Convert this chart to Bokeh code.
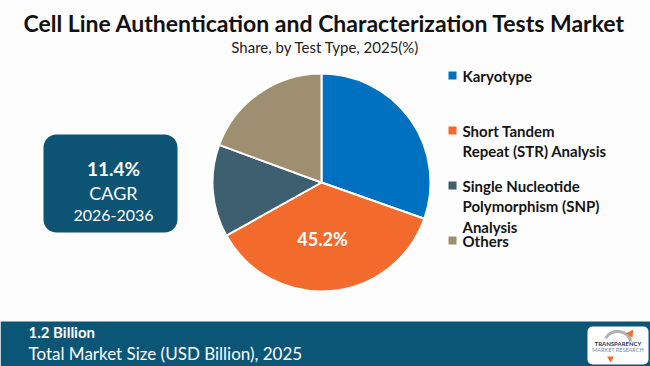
import math
from bokeh.plotting import figure
from bokeh.models import Range1d, BoxAnnotation
from bokeh.core.properties import value
from bokeh.embed import file_html
from bokeh.resources import INLINE

# ---- data ----
categories = ["Karyotype", "Short Tandem Repeat (STR) Analysis",
              "Single Nucleotide Polymorphism (SNP) Analysis", "Others"]
shares = [30.4, 36.5, 13.7, 19.4]
colors = ["#0070c0", "#f26b2c", "#3e5f6f", "#9e8f70"]
legend_lines = [["Karyotype"], ["Short Tandem", "Repeat (STR) Analysis"],
                ["Single Nucleotide", "Polymorphism (SNP)", "Analysis"], ["Others"]]
highlight_label = "45.2%"
title = "Cell Line Authentication and Characterization Tests Market"
subtitle = "Share, by Test Type, 2025(%)"
cagr_value = "11.4%"
cagr_period = "2026-2036"
market_size = "1.2 Billion"
market_caption = "Total Market Size (USD Billion), 2025"

W, H = 650, 366
p = figure(width=W, height=H, x_range=Range1d(0, W), y_range=Range1d(0, H),
           output_backend="svg", toolbar_location=None, min_border=0)
p.axis.visible = False
p.grid.visible = False
p.outline_line_color = None
p.background_fill_color = "#fdfdfd"
p.border_fill_color = "#fdfdfd"

def Y(y):
    return H - y

FONT = value("Lato")

# title
p.text([W / 2 - 1], [Y(22)], text=[title], text_font=FONT, text_font_style="bold",
       text_font_size="23px", text_align="center", text_baseline="middle", text_color="#111111")
p.text([W / 2], [Y(46)], text=[subtitle], text_font=FONT,
       text_font_size="15px", text_align="center", text_baseline="middle", text_color="#222222")

# pie
cx, cy, r = 321, Y(182), 109
total = sum(shares)
start = math.pi / 2
starts, ends = [], []
for s in shares:
    a = 2 * math.pi * s / total
    starts.append(start - a)
    ends.append(start)
    start -= a
p.wedge(x=[cx] * 4, y=[cy] * 4, radius=r, start_angle=starts, end_angle=ends,
        fill_color=colors, line_color="white", line_width=2)
p.text([322], [Y(238)], text=[highlight_label], text_font=FONT, text_font_style="bold",
       text_font_size="18px", text_align="center", text_baseline="middle", text_color="white")

# legend
leg_y = [75, 130, 185, 240]
for i, lines in enumerate(legend_lines):
    p.scatter([452], [Y(leg_y[i])], marker="square", size=8, fill_color=colors[i], line_color=None)
    for j, t in enumerate(lines):
        p.text([462], [Y(leg_y[i] + j * 20.5)], text=[t], text_font=FONT, text_font_style="bold",
               text_font_size="15px", text_align="left", text_baseline="middle", text_color="#151515")

# CAGR box
p.add_layout(BoxAnnotation(left=43, right=177, top=Y(134), bottom=Y(232), fill_color="#0d5373",
                           fill_alpha=1, line_color=None, border_radius=13, level="underlay"))
p.text([113], [Y(168)], text=[cagr_value], text_font=FONT, text_font_style="bold",
       text_font_size="19px", text_align="center", text_baseline="middle", text_color="white")
p.text([113], [Y(192)], text=["CAGR"], text_font=FONT,
       text_font_size="18px", text_align="center", text_baseline="middle", text_color="white")
p.text([113], [Y(215)], text=[cagr_period], text_font=FONT,
       text_font_size="16px", text_align="center", text_baseline="middle", text_color="white")

# bottom band
p.add_layout(BoxAnnotation(left=0, right=W, top=Y(321), bottom=0, fill_color="#0b5677",
                           fill_alpha=1, line_color=None, level="underlay"))
p.text([28], [Y(331)], text=[market_size], text_font=FONT, text_font_style="bold",
       text_font_size="15px", text_align="left", text_baseline="middle", text_color="white")
p.text([28], [Y(353)], text=[market_caption], text_font=FONT,
       text_font_size="17px", text_align="left", text_baseline="middle", text_color="white")

# logo
p.add_layout(BoxAnnotation(left=587, right=648, top=Y(326), bottom=Y(364), fill_color="white",
                           fill_alpha=1, line_color=None, border_radius=5, level="underlay"))
p.arc([617], [Y(345)], radius=14, start_angle=0.3, end_angle=2.6, line_color="#b0b0b0", line_width=3)
p.scatter([630], [Y(333)], marker="triangle", size=8, fill_color="#f26b2c", line_color=None, angle=-0.6)
p.scatter([610], [Y(358)], marker="inverted_triangle", size=7, fill_color="#f26b2c", line_color=None)
p.text([617.5], [Y(343)], text=["TRANSPARENCY"], text_font=FONT, text_font_style="bold",
       text_font_size="6px", text_align="center", text_baseline="middle", text_color="#1b3a5c")
p.text([617.5], [Y(349)], text=["MARKET RESEARCH"], text_font=FONT,
       text_font_size="5.5px", text_align="center", text_baseline="middle", text_color="#6a8aa8")

open("out.html", "w").write(file_html(p, INLINE))
